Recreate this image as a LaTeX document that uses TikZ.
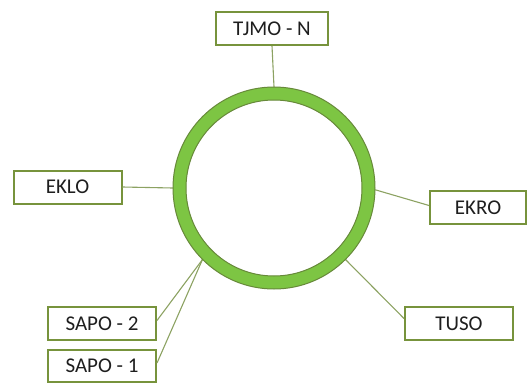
\documentclass[tikz,border=0pt]{standalone}
\usepackage{fontspec}
\setmainfont{Carlito}
\definecolor{ringgreen}{HTML}{7DC543}
\definecolor{ringedge}{HTML}{67893A}
\definecolor{boxedge}{HTML}{77933C}
\definecolor{linkcol}{HTML}{8CA262}
\definecolor{txt}{HTML}{1E1E1E}
\tikzset{
  lbl/.style={draw=boxedge, line width=2pt, fill=white, minimum width=108pt, minimum height=33pt, inner sep=0pt, text=txt, font=\fontsize{21}{24}\selectfont},
  link/.style={draw=linkcol, line width=1.1pt}
}
\begin{document}
\begin{tikzpicture}[x=1pt,y=-1pt]
\useasboundingbox (0,0) rectangle (527,383);
\node[circle, minimum size=202pt, inner sep=0pt] (ring) at (274,188) {};
\node[lbl, minimum width=112pt] (tjmo) at (272,28.5) {TJMO - N};
\node[lbl] (eklo) at (67.5,187) {EKLO};
\node[lbl, minimum width=96pt] (ekro) at (478,207.5) {EKRO};
\node[lbl] (tuso) at (459,323.5) {TUSO};
\node[lbl] (sapotwo) at (102,323.5) {SAPO - 2};
\node[lbl, minimum height=32pt] (sapoone) at (102,366) {SAPO - 1};
\draw[link] (tjmo.south) -- (ring.north);
\draw[link] (eklo.east) -- (ring.west);
\draw[link] (ring.-1) -- ([yshift=2pt]ekro.west);
\draw[link] (ring.-45) -- ([yshift=5pt]tuso.west);
\draw[link] (ring.-135) -- ([yshift=3pt]sapotwo.east);
\draw[link] (ring.-135) -- ([yshift=3pt]sapoone.east);
\path[fill=ringgreen, draw=ringedge, line width=1pt, even odd rule]
  (ring.center) circle [radius=101pt] (ring.center) circle [radius=88pt];
\end{tikzpicture}
\end{document}
